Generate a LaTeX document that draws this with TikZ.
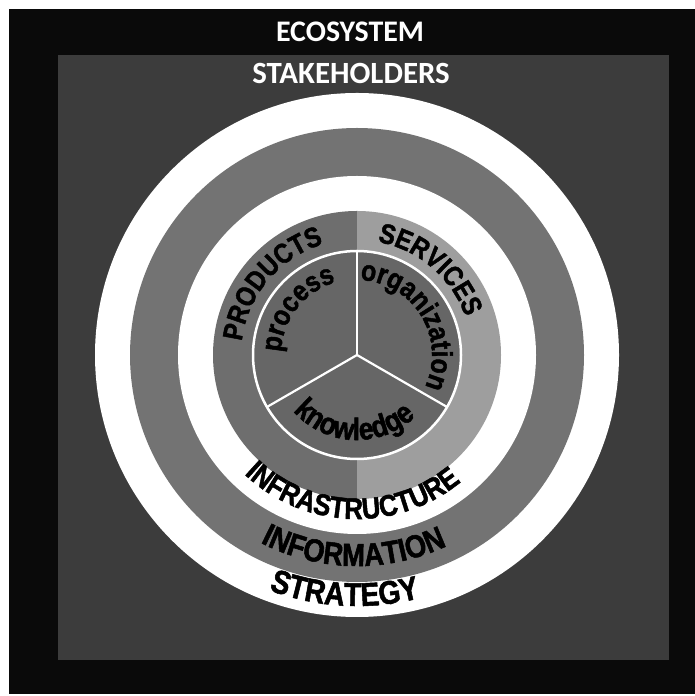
\documentclass[tikz,border=0pt]{standalone}
\usepackage{fontspec}
\newfontfamily\capsfont{Carlito}[UprightFont={* Bold}]
\newfontfamily\ringfont{Liberation Sans}[UprightFont={* Bold},FakeStretch=0.86,FakeBold=1.6]
\usetikzlibrary{decorations.text}
\definecolor{eco}{HTML}{0A0A0A}
\definecolor{stake}{HTML}{3C3C3C}
\definecolor{info}{HTML}{737373}
\definecolor{prod}{HTML}{6E6E6E}
\definecolor{serv}{HTML}{9E9E9E}
\definecolor{core}{HTML}{666666}

\begin{document}
\begin{tikzpicture}[x=1bp,y=1bp,
    header/.style={text=white,inner sep=0pt,
                   font=\capsfont\fontsize{30}{30}\selectfont},
    ring/.style 2 args={decorate,decoration={text along path,text align=center,
                   text={|\ringfont\fontsize{#1}{#1}\selectfont|#2}}},
    spoke/.style={white,line width=2.2bp}]
  \useasboundingbox (0,0) rectangle (695,696);
  \fill[white] (0,0) rectangle (695,696);
  \fill[eco] (9,2) rectangle (695,687);
  \fill[stake] (58,36) rectangle (669,641);
  \coordinate (c) at (357,341);
  % rings
  \fill[white] (c) circle[radius=262];
  \fill[info] (c) circle[radius=227];
  \fill[white] (c) circle[radius=179];
  \fill[prod] ([shift={(90:144)}]c) arc[start angle=90,end angle=270,radius=144] -- cycle;
  \fill[serv] ([shift={(-90:144)}]c) arc[start angle=-90,end angle=90,radius=144] -- cycle;
  \filldraw[fill=core,draw=white,line width=2.5bp] (c) circle[radius=104];
  \foreach \a in {90,210,330}
    \draw[spoke] (c) -- ++(\a:104);
  \node[header] (eco) at (350,664) {ECOSYSTEM};
  \node[header,font=\capsfont\fontsize{31}{31}\selectfont] (stake) at (351,623) {STAKEHOLDERS};
  % labels along the rings
  \path[ring={28}{PRODUCTS}] ([shift={(195:116)}]c) arc[start angle=195,end angle=85,radius=116];
  \path[ring={28}{SERVICES}] ([shift={(100:115)}]c) arc[start angle=100,end angle=-1,radius=115];
  \path[ring={29}{process}] ([shift={(200:76)}]c) arc[start angle=200,end angle=84,radius=76];
  \path[ring={29}{organization}] ([shift={(100:75)}]c) arc[start angle=100,end angle=-37.5,radius=75];
  \path[ring={31}{knowledge}] ([shift={(195:85)}]c) arc[start angle=195,end angle=340,radius=85];
  \path[ring={30}{INFRASTRUCTURE}] ([shift={(208:164)}]c) arc[start angle=208,end angle=328,radius=164];
  \path[ring={32}{INFORMATION}] ([shift={(229:211)}]c) arc[start angle=229,end angle=309,radius=211];
  \path[ring={33}{STRATEGY}] ([shift={(237:251)}]c) arc[start angle=237,end angle=297,radius=251];
\end{tikzpicture}
\end{document}
